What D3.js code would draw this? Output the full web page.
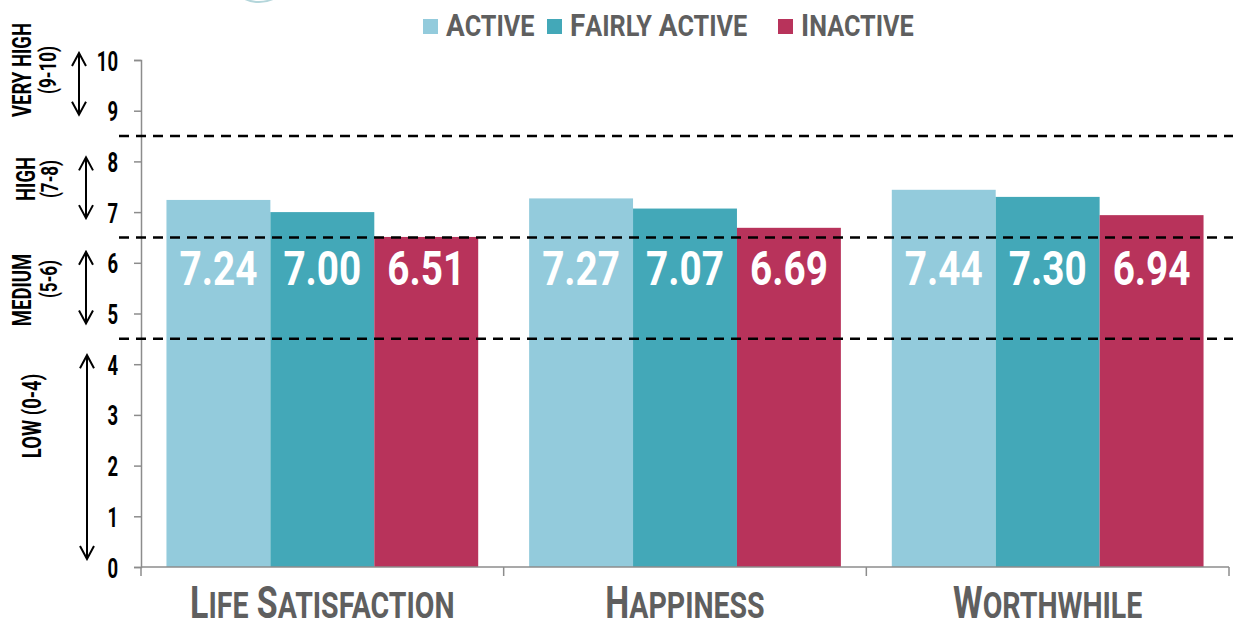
<!DOCTYPE html>
<html>
<head>
<meta charset="utf-8">
<script src="https://cdn.jsdelivr.net/npm/d3@7"></script>
<style>
  body { margin: 0; background: #fff; }
  text { font-family: Roboto, "DejaVu Sans", sans-serif; font-weight: bold; }
</style>
</head>
<body>
<div id="chart"></div>
<script>
// data
const categories = ["Life Satisfaction", "Happiness", "Worthwhile"];
const seriesNames = ["Active", "Fairly Active", "Inactive"];
const active = [7.24, 7.27, 7.44];
const fairlyActive = [7.00, 7.07, 7.30];
const inactive = [6.51, 6.69, 6.94];
const yTicks = [0, 1, 2, 3, 4, 5, 6, 7, 8, 9, 10];
const bandLines = [4.5, 6.5, 8.5];
const bands = [
  { lines: ["VERY HIGH", "(9-10)"], from: 9, to: 10 },
  { lines: ["HIGH", "(7-8)"], from: 7, to: 8 },
  { lines: ["MEDIUM", "(5-6)"], from: 5, to: 6 },
  { lines: ["LOW (0-4)"], from: 0, to: 4 }
];
const colors = ["#93cbdc", "#43a8b8", "#b8335b"];

// squeeze text horizontally, the font we have is much wider than the original
function squeeze(x, y, sx, rot) {
  return "translate(" + x + "," + y + ")" + (rot ? " rotate(" + rot + ")" : "") + " scale(" + sx + ",1)";
}
// fake small caps with tall lower letters, like the original
function smallCaps(el, str, big, small) {
  let t = d3.select(el);
  str.split(" ").forEach((w, i) => {
    t.append("tspan").style("font-size", big + "px").text((i ? " " : "") + w[0].toUpperCase());
    t.append("tspan").style("font-size", small + "px").text(w.slice(1).toUpperCase());
  });
}

let widthParam = 1233, heightParam = 623;
let svg = d3.select("#chart").append("svg")
  .attr("width", widthParam).attr("height", heightParam);
let margin = { top: 60, right: 4, bottom: 56, left: 141 };
let width = widthParam - margin.left - margin.right;
let height = heightParam - margin.top - margin.bottom;
let rootGroup = svg.append("g")
  .attr("transform", "translate(" + margin.left + "," + margin.top + ")");

// bits of a logo peeking in at the top
svg.append("circle").attr("cx", 259).attr("cy", -31).attr("r", 33)
  .attr("fill", "none").attr("stroke", "#b4d6db").attr("stroke-width", 2);

let x0 = d3.scaleBand().domain(categories).range([0, width]).paddingInner(0).paddingOuter(0);
let x1 = d3.scaleBand().domain(seriesNames).range([0, x0.bandwidth()]).paddingOuter(0.245);
let y = d3.scaleLinear().domain([0, 10]).range([height, 0]);

let data = categories.map((c, i) => ({
  cat: c,
  values: [active[i], fairlyActive[i], inactive[i]]
}));

// bars
let groups = rootGroup.selectAll(".grp").data(data).enter().append("g")
  .attr("transform", d => "translate(" + x0(d.cat) + ",0)");
groups.selectAll("rect").data(d => d.values.map((v, k) => ({ v: v, k: k })))
  .enter().append("rect")
  .attr("x", d => x1(seriesNames[d.k]))
  .attr("width", x1.bandwidth())
  .attr("y", d => y(d.v))
  .attr("height", d => height - y(d.v))
  .attr("fill", d => colors[d.k]);

// axes
let yAxis = rootGroup.append("g")
  .call(d3.axisLeft(y).tickValues(yTicks).tickSize(7).tickFormat(d3.format("d")));
yAxis.select(".domain").attr("stroke", "#8c8c8c").attr("stroke-width", 1.5);
yAxis.selectAll(".tick line").attr("stroke", "#8c8c8c").attr("stroke-width", 1.5);
yAxis.selectAll(".tick text").attr("fill", "#000").style("font-size", "28px")
  .attr("x", 0).attr("dy", "0.36em")
  .attr("transform", squeeze(-23, 0, 0.66));

let xAxis = rootGroup.append("g").attr("transform", "translate(0," + height + ")");
xAxis.append("line").attr("x1", 0).attr("x2", width)
  .attr("stroke", "#8c8c8c").attr("stroke-width", 1.5);
xAxis.selectAll(".xt").data(d3.range(categories.length + 1)).enter().append("line")
  .attr("x1", i => i * x0.step()).attr("x2", i => i * x0.step())
  .attr("y1", 0).attr("y2", 9)
  .attr("stroke", "#8c8c8c").attr("stroke-width", 1.5);
xAxis.selectAll(".xl").data(categories).enter().append("text")
  .attr("transform", d => squeeze(x0(d) + x0.bandwidth() / 2, 51, 0.77))
  .attr("text-anchor", "middle")
  .attr("fill", "#5f5f5f")
  .each(function (d) { smallCaps(this, d, 44, 37); });

// dashed band lines
rootGroup.selectAll(".band").data(bandLines).enter().append("line")
  .attr("x1", -22).attr("x2", width + 4)
  .attr("y1", d => y(d)).attr("y2", d => y(d))
  .attr("stroke", "#000").attr("stroke-width", 2.5)
  .attr("stroke-dasharray", "10,7");

// value labels
groups.selectAll(".val").data(d => d.values.map((v, k) => ({ v: v, k: k })))
  .enter().append("text")
  .attr("transform", d => squeeze(x1(seriesNames[d.k]) + x1.bandwidth() / 2, y(5.56), 0.79))
  .attr("text-anchor", "middle")
  .attr("fill", "#fff")
  .style("font-size", "49px")
  .text(d => d.v.toFixed(2));

// band annotations with arrows
let defs = svg.append("defs");
defs.append("marker").attr("id", "arr").attr("viewBox", "0 0 16 16")
  .attr("refX", 14).attr("refY", 8).attr("markerWidth", 16).attr("markerHeight", 16)
  .attr("markerUnits", "userSpaceOnUse").attr("orient", "auto-start-reverse")
  .append("path").attr("d", "M1,1 L14,8 L1,15").attr("fill", "none")
  .attr("stroke", "#000").attr("stroke-width", 2);

let arrowX = [79, 86, 86, 87];
let arrowPad = [[-7, 4], [-4, 6], [-11, 10], [-9, -8]];
let textPos = [[[22, 70], [48, 70]], [[26, 179], [50, 179]], [[22, 290], [49, 279]], [[32, 416]]];
bands.forEach((b, i) => {
  let yTop = y(b.to) + margin.top + arrowPad[i][0];
  let yBot = y(b.from) + margin.top + arrowPad[i][1];
  svg.append("line")
    .attr("x1", arrowX[i]).attr("x2", arrowX[i])
    .attr("y1", yTop).attr("y2", yBot)
    .attr("stroke", "#000").attr("stroke-width", 2)
    .attr("marker-start", "url(#arr)").attr("marker-end", "url(#arr)");
  b.lines.forEach((t, j) => {
    svg.append("text")
      .attr("transform", squeeze(textPos[i][j][0], textPos[i][j][1], 0.74, -90))
      .attr("text-anchor", "middle")
      .attr("dy", "0.36em")
      .attr("fill", "#000")
      .style("font-size", j ? "23px" : "25px")
      .text(t);
  });
});

// legend
let legendX = [423, 547, 778];
let legend = svg.selectAll(".lg").data(seriesNames).enter().append("g")
  .attr("transform", (d, i) => "translate(" + legendX[i] + ",19)");
legend.append("rect").attr("width", 15).attr("height", 15)
  .attr("fill", (d, i) => colors[i]);
legend.append("text")
  .attr("transform", squeeze(23, 17, 0.87))
  .attr("fill", "#5f5f5f")
  .each(function (d) { smallCaps(this, d, 32, 29); });
</script>
</body>
</html>
